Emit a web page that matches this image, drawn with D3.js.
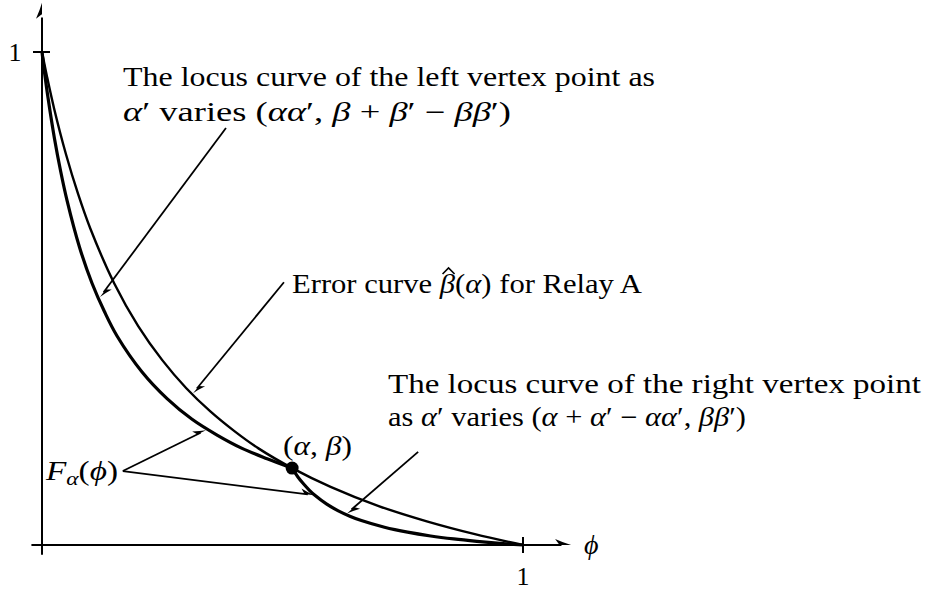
<!DOCTYPE html>
<html>
<head>
<meta charset="utf-8">
<script src="https://cdn.jsdelivr.net/npm/d3@7"></script>
<style>
  html, body { margin: 0; padding: 0; background: #fff; }
  svg { display: block; }
  text { font-family: "Liberation Serif", "DejaVu Serif", serif; fill: #000; }
</style>
</head>
<body>
<svg id="chart" width="925" height="592"></svg>
<script>
// Error curve beta-hat(alpha) of Relay A, sampled along phi
const errX = [0, 0.01, 0.025, 0.05, 0.075, 0.1, 0.15, 0.2, 0.25, 0.3, 0.35, 0.4, 0.45, 0.52, 0.6, 0.7, 0.8, 0.9, 1];
const errY = [1, 0.952, 0.886, 0.792, 0.712, 0.643, 0.531, 0.444, 0.375, 0.318, 0.271, 0.231, 0.196, 0.156, 0.118, 0.079, 0.048, 0.022, 0];

// Locus of the left vertex point (alpha alpha', beta + beta' - beta beta')
const leftX = [0, 0.0052, 0.013, 0.026, 0.039, 0.052, 0.078, 0.104, 0.13, 0.156, 0.208, 0.26, 0.312, 0.364, 0.416, 0.468, 0.52];
const leftY = [1, 0.959, 0.904, 0.824, 0.757, 0.699, 0.604, 0.531, 0.473, 0.424, 0.351, 0.297, 0.255, 0.223, 0.196, 0.175, 0.156];

// Locus of the right vertex point (alpha + alpha' - alpha alpha', beta beta')
const rightX = [0.52, 0.5248, 0.532, 0.544, 0.556, 0.568, 0.592, 0.616, 0.64, 0.664, 0.712, 0.76, 0.808, 0.856, 0.904, 0.952, 1];
const rightY = [0.156, 0.1485, 0.138, 0.1236, 0.111, 0.1003, 0.0828, 0.0693, 0.0585, 0.0496, 0.036, 0.026, 0.0183, 0.0123, 0.0075, 0.0034, 0];

// Operating point (alpha, beta)
const pointXY = [0.52, 0.156];

// Axis tick labels
const xTickValues = [1];
const xTickLabels = ["1"];
const yTickValues = [1];
const yTickLabels = ["1"];

const svg = d3.select("#chart");
const x = d3.scaleLinear().domain([0, 1]).range([42, 523]);
const y = d3.scaleLinear().domain([0, 1]).range([545, 52]);

// ---- arrowhead helper (LaTeX-like filled head) ----
function arrowHead(g, tx, ty, fx, fy, len, half) {
  const a = Math.atan2(ty - fy, tx - fx);
  const c = Math.cos(a), s = Math.sin(a);
  const P = (u, v) => [tx + u * c - v * s, ty + u * s + v * c];
  const p1 = P(-len, -half), p2 = P(-len * 0.72, 0), p3 = P(-len, half);
  g.append("path")
    .attr("d", `M${tx},${ty} Q${P(-len*0.45,-half*0.35)} ${p1} Q${p2} ${p2} ${p2} Q${p2} ${p3} Q${P(-len*0.45,half*0.35)} ${tx},${ty} Z`)
    .attr("fill", "#000");
}
function arrow(g, fx, fy, tx, ty, w) {
  const a = Math.atan2(ty - fy, tx - fx);
  g.append("line")
    .attr("x1", fx).attr("y1", fy)
    .attr("x2", tx - 6 * Math.cos(a)).attr("y2", ty - 6 * Math.sin(a))
    .attr("stroke", "#000").attr("stroke-width", w);
  arrowHead(g, tx, ty, fx, fy, 13, 5);
}

// ---- axes ----
const axes = svg.append("g");
axes.append("line").attr("x1", x(-0.022)).attr("x2", x(1.08)).attr("y1", y(0)).attr("y2", y(0))
  .attr("stroke", "#000").attr("stroke-width", 2);
arrowHead(axes, x(1.1), y(0), x(0), y(0), 16, 6);
axes.append("line").attr("x1", x(0)).attr("x2", x(0)).attr("y1", y(-0.02)).attr("y2", y(1.07))
  .attr("stroke", "#000").attr("stroke-width", 2);
arrowHead(axes, x(0), y(1.1), x(0), y(0), 16, 6);

xTickValues.forEach((v, i) => {
  axes.append("line").attr("x1", x(v)).attr("x2", x(v)).attr("y1", y(0) - 8).attr("y2", y(0) + 8)
    .attr("stroke", "#000").attr("stroke-width", 2);
  axes.append("text").attr("x", x(v)).attr("y", y(0) + 40).attr("text-anchor", "middle")
    .attr("font-size", 26).text(xTickLabels[i]);
});
yTickValues.forEach((v, i) => {
  axes.append("line").attr("x1", x(0) - 9).attr("x2", x(0) + 8).attr("y1", y(v)).attr("y2", y(v))
    .attr("stroke", "#000").attr("stroke-width", 2);
  axes.append("text").attr("x", x(0) - 27).attr("y", y(v) + 9).attr("text-anchor", "middle")
    .attr("font-size", 26).text(yTickLabels[i]);
});
axes.append("text").attr("x", x(1.127)).attr("y", y(0) + 9).attr("font-size", 28)
  .attr("font-style", "italic").text("ϕ");

// ---- curves ----
const line = d3.line().x(d => x(d[0])).y(d => y(d[1])).curve(d3.curveCatmullRom.alpha(0.5));
const zip = (a, b) => a.map((v, i) => [v, b[i]]);

svg.append("path").datum(zip(errX, errY)).attr("d", line)
  .attr("fill", "none").attr("stroke", "#000").attr("stroke-width", 2.4);
svg.append("path").datum(zip(leftX, leftY)).attr("d", line)
  .attr("fill", "none").attr("stroke", "#000").attr("stroke-width", 3.2);
svg.append("path").datum(zip(rightX, rightY)).attr("d", line)
  .attr("fill", "none").attr("stroke", "#000").attr("stroke-width", 3.2);

svg.append("circle").attr("cx", x(pointXY[0])).attr("cy", y(pointXY[1])).attr("r", 6.5).attr("fill", "#000");

// ---- annotation arrows (anchored in data units) ----
const ann = svg.append("g");
arrow(ann, x(0.3825), y(0.846), x(0.1206), y(0.503), 1.8);
arrow(ann, x(0.503), y(0.533), x(0.314), y(0.308), 1.8);
arrow(ann, x(0.782), y(0.189), x(0.634), y(0.064), 1.8);
arrow(ann, x(0.168), y(0.150), x(0.341), y(0.233), 1.8);
arrow(ann, x(0.168), y(0.150), x(0.565), y(0.101), 1.8);

// ---- text labels: segments of [string, italic?] ----
function label(px, py, segs, size, width) {
  const t = svg.append("text").attr("x", px).attr("y", py).attr("font-size", size)
    .attr("xml:space", "preserve").style("white-space", "pre");
  segs.forEach(([s, it, extra]) => {
    const ts = t.append("tspan").text(s);
    if (it) ts.attr("font-style", "italic");
    if (extra) extra(ts);
  });
  if (width) t.attr("textLength", width).attr("lengthAdjust", "spacingAndGlyphs");
  return t;
}
const R = false, I = true;

label(123, 86, [["The locus curve of the left vertex point as", R]], 27, 532);
label(123, 121, [["α", I], ["′ varies (", R], ["αα", I], ["′, ", R], ["β", I], [" + ", R], ["β", I], ["′ − ", R], ["ββ", I], ["′)", R]], 27, 388);

const errLabel = label(292, 293, [["Error curve ", R], ["β", I], ["(", R], ["α", I], [")", R], [" for Relay A", R]], 27, 350);
// hat accent over the beta of the error-curve label, placed from the glyph's box
{
  const bb = errLabel.node().querySelectorAll("tspan")[1].getBBox();
  const cx = bb.x + bb.width * 0.58, top = bb.y + 1;
  svg.append("path")
    .attr("d", `M${cx - 6},${top + 4} L${cx},${top - 2} L${cx + 6},${top + 4}`)
    .attr("fill", "none").attr("stroke", "#000").attr("stroke-width", 1.6);
}

label(388, 393, [["The locus curve of the right vertex point", R]], 27, 533);
label(388, 426, [["as ", R], ["α", I], ["′ varies (", R], ["α", I], [" + ", R], ["α", I], ["′ − ", R], ["αα", I], ["′, ", R], ["ββ", I], ["′)", R]], 27, 358);

label(283, 455, [["(", R], ["α", I], [", ", R], ["β", I], [")", R]], 27, 69);

label(46, 480, [["F", I], ["α", I, ts => ts.attr("font-size", 19).attr("dy", 5)], ["(", R, ts => ts.attr("dy", -5)], ["ϕ", I], [")", R]], 27, 72);
</script>
</body>
</html>
